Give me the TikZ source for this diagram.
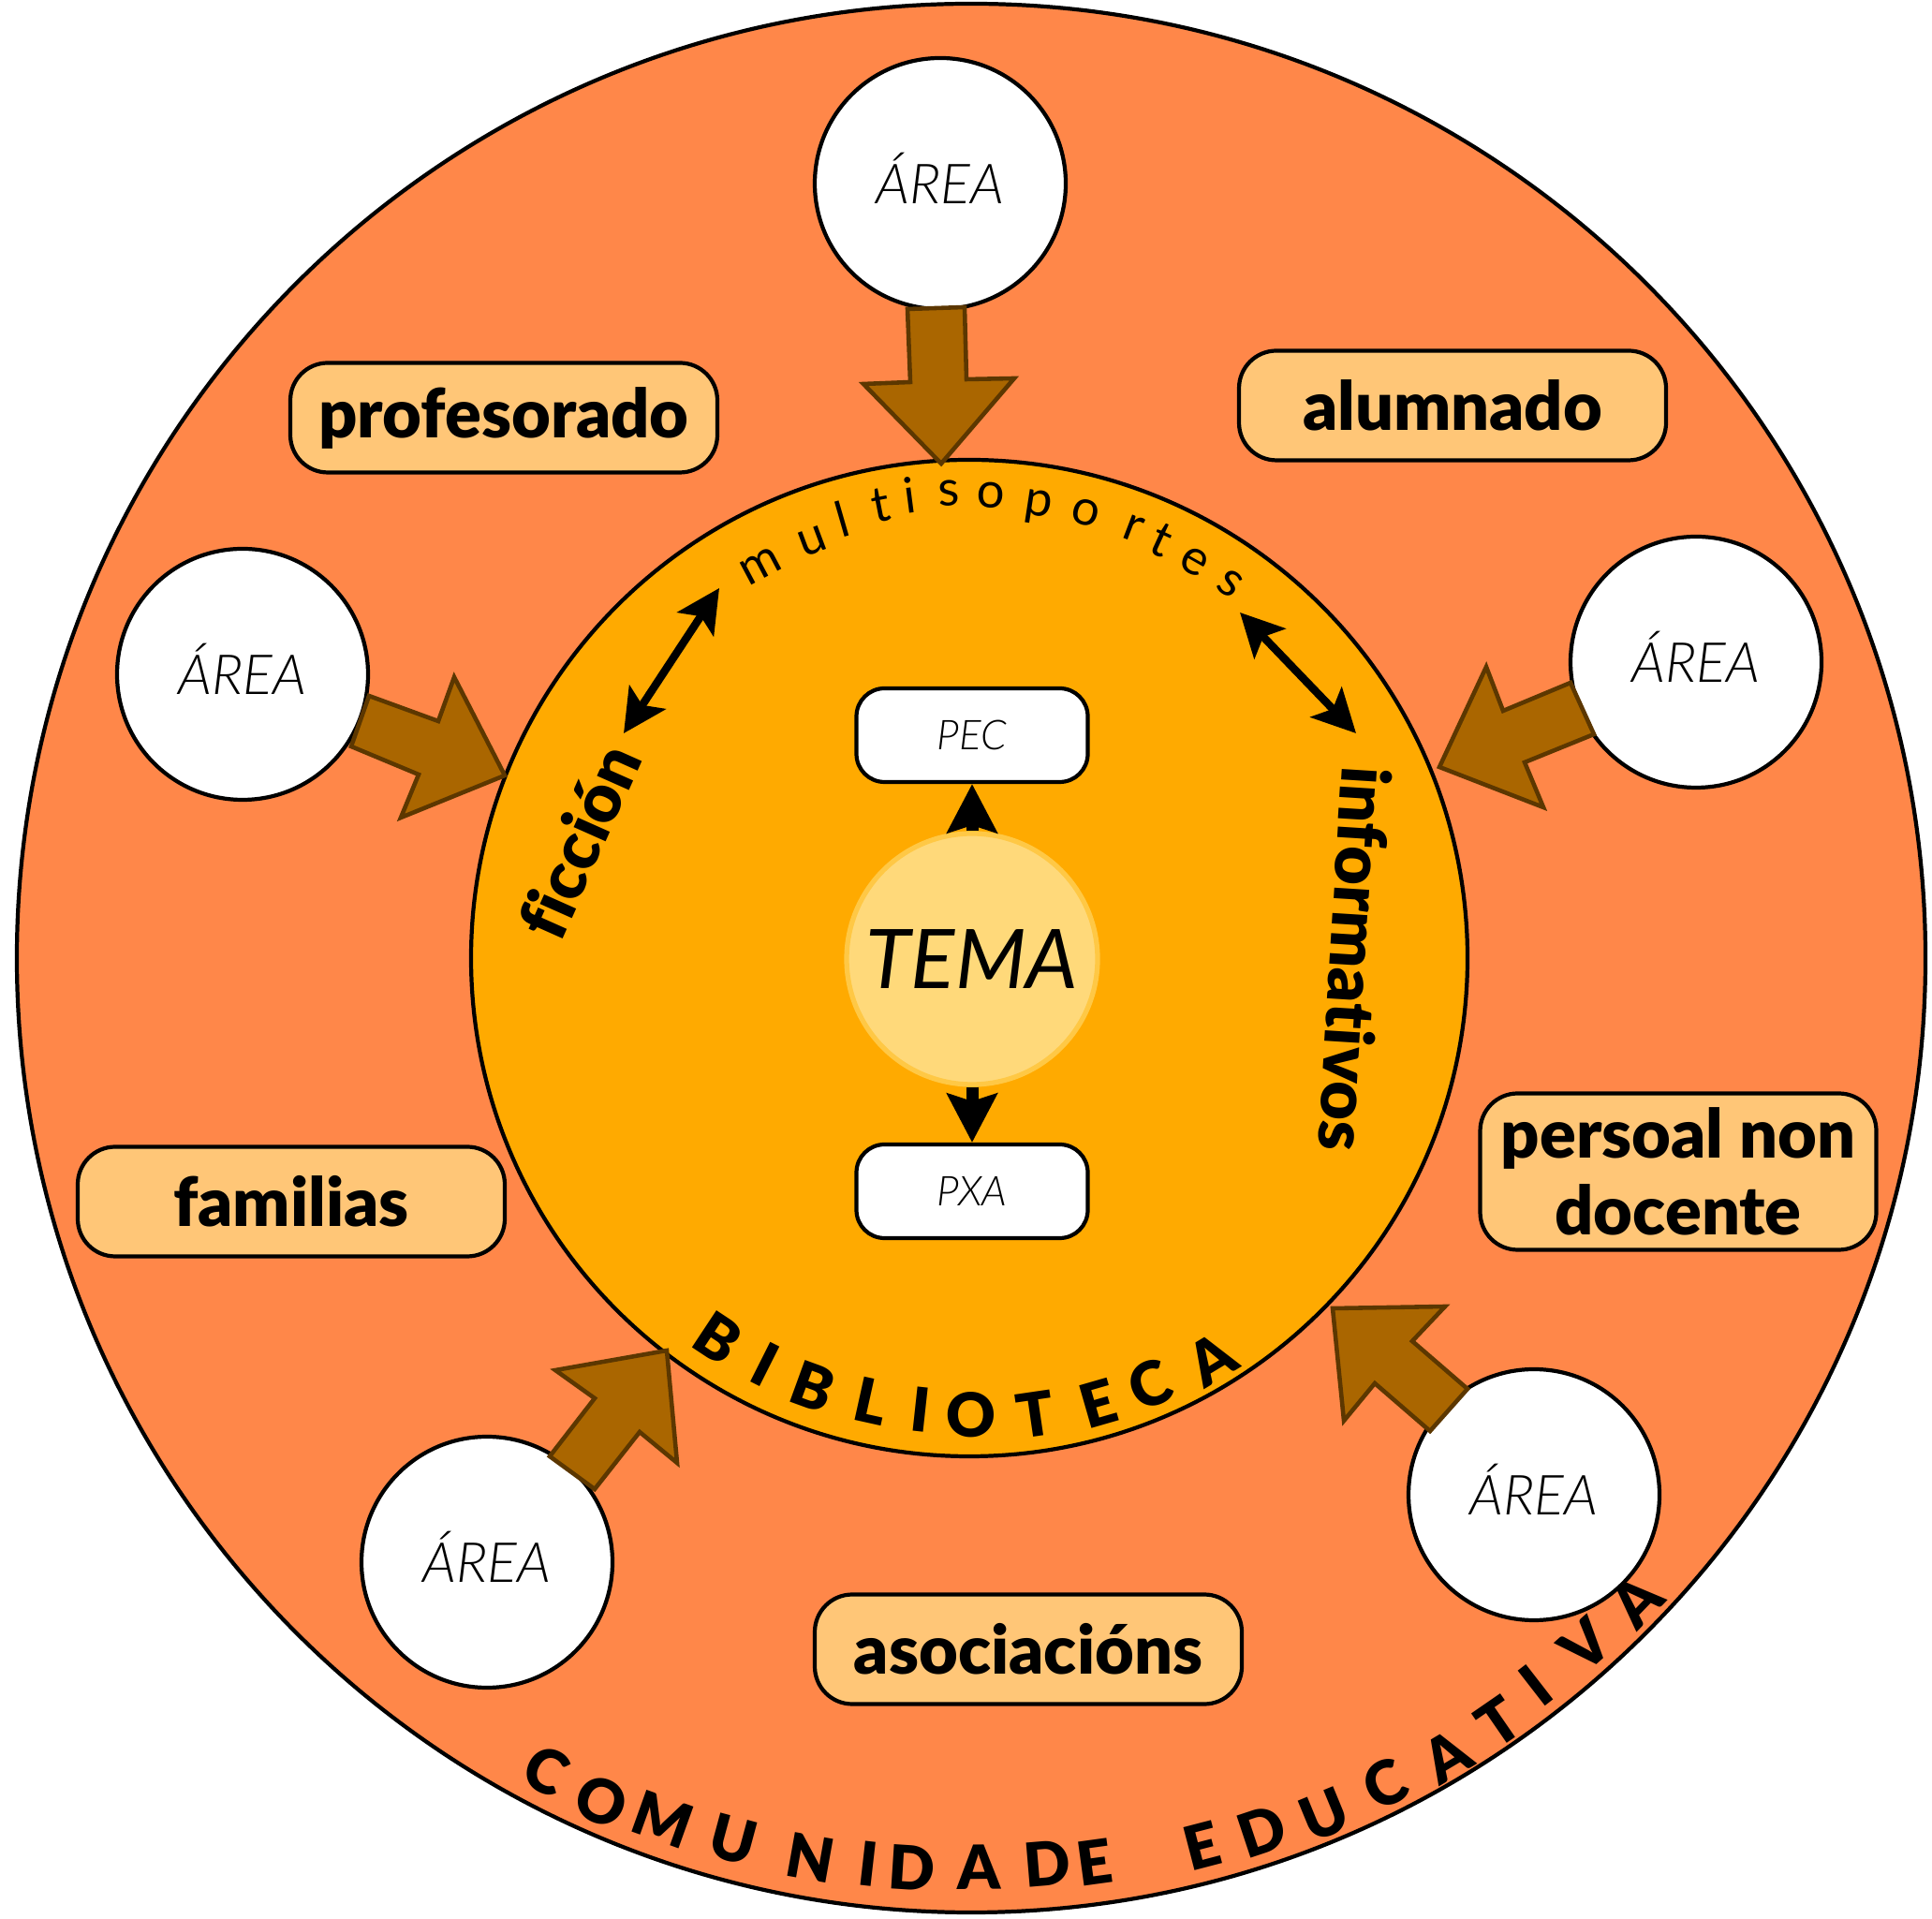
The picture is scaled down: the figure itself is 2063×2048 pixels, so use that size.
\documentclass[tikz,border=0pt]{standalone}
\usepackage{fontspec}
\setmainfont{Lato}
\newfontfamily\blackfont{Lato Black}[Ligatures=CommonOff]
\newfontfamily\lightitfont{Lato Light Italic}
\usetikzlibrary{arrows.meta}

\definecolor{outerfill}{HTML}{FF8749}
\definecolor{innerfill}{HTML}{FFAA00}
\definecolor{boxfill}{HTML}{FFC677}
\definecolor{temafill}{HTML}{FFD97A}
\definecolor{temaline}{HTML}{FFC845}
\definecolor{arrowfill}{HTML}{AA6600}
\definecolor{arrowline}{HTML}{5C3700}

\newcommand{\areafont}{\lightitfont\fontsize{16.8}{18}\selectfont}
\newcommand{\grupofont}{\blackfont\fontsize{20.5}{23.5}\selectfont}
\newcommand{\docfont}{\lightitfont\fontsize{12.5}{14}\selectfont}
\newcommand{\temafont}{\itshape\fontsize{25}{30}\selectfont}
\newcommand{\soportefont}{\fontsize{15}{17}\selectfont}
\newcommand{\bibfont}{\blackfont\fontsize{18.5}{20}\selectfont}

\tikzset{
  area/.style={circle, draw, line width=1.2pt, fill=white, minimum size=26.8mm,
    inner sep=0pt, text height=4.3mm, text depth=0pt, font=\areafont},
  grupo/.style={rectangle, rounded corners=4mm, draw, line width=1.2pt, fill=boxfill,
    minimum width=45.6mm, minimum height=11.7mm, align=center, font=\grupofont},
  doc/.style={rectangle, rounded corners=3mm, draw, line width=1.2pt, fill=white,
    minimum width=24.7mm, minimum height=10mm, font=\docfont},
  tema/.style={circle, draw=temaline, line width=1.5pt, fill=temafill,
    minimum size=26.8mm, inner sep=0pt, font=\temafont},
  blockarrow/.style={fill=arrowfill, draw=arrowline, line width=1.3pt, line join=miter},
  fatarrow/.style={line width=3.7pt, -{Stealth[length=5.2mm, width=5.3mm, inset=0.8mm]}},
  dblarrow/.style={line width=2.4pt,
    {Stealth[length=4.6mm, width=4.6mm, inset=1mm]}-{Stealth[length=4.6mm, width=4.6mm, inset=1mm]}},
  letter/.style={anchor=base, inner sep=0pt},
}

\begin{document}
\begin{tikzpicture}[x=0.1mm, y=0.1mm]
  \useasboundingbox (0,0) rectangle (2063,2048);
  \coordinate (O) at (1037,1025);
  \coordinate (B) at (1035,1025);
  \coordinate (F1) at (666,1265);
  \coordinate (F2) at (768,1420);
  \coordinate (I1) at (1324,1394);
  \coordinate (I2) at (1448,1265);

  \draw[line width=1.2pt, fill=outerfill] (O) circle (1019);
  \draw[line width=1.2pt, fill=innerfill] (B) circle (532);

  %% areas
  \node[area] (A1) at (1004,1852) {ÁREA};
  \node[area] (A2) at (259,1328) {ÁREA};
  \node[area] (A3) at (1811,1341) {ÁREA};
  \node[area] (A4) at (520,380) {ÁREA};
  \node[area] (A5) at (1638,452) {ÁREA};

  \draw[blockarrow] (969,1718) -- (1030,1720) -- (1032,1643) -- (1083,1644) -- (1005,1553)
    -- (922,1638) -- (972,1640) -- cycle;
  \draw[blockarrow] (394,1305) -- (468,1278) -- (485,1325) -- (539,1220) -- (428,1175)
    -- (447,1221) -- (375,1251) -- cycle;
  \draw[blockarrow] (1677,1319) -- (1605,1289) -- (1587,1336) -- (1537,1229) -- (1648,1186)
    -- (1628,1234) -- (1702,1264) -- cycle;
  \draw[blockarrow] (587,493) -- (635,555) -- (593,585) -- (712,606) -- (723,486)
    -- (683,519) -- (635,458) -- cycle;
  \draw[blockarrow] (1567,565) -- (1508,616) -- (1543,653) -- (1423,651) -- (1435,531)
    -- (1468,571) -- (1527,520) -- cycle;

  %% comunidade
  \node[grupo] (prof) at (538,1602) {profesorado};
  \node[grupo] (alum) at (1551,1615) {alumnado};
  \node[grupo] (fam) at (311,765) {familias};
  \node[grupo, minimum width=42.3mm, minimum height=16.7mm] (pers) at (1792,797)
    {persoal non\\docente};
  \node[grupo] (asoc) at (1098,287) {asociacións};

  %% biblioteca
  \node[doc] (pec) at (1038,1263) {PEC};
  \node[doc] (pxa) at (1038,776) {PXA};
  \node[tema] (tem) at (1038,1024) {TEMA};
  \draw[fatarrow] (tem) -- (pec);
  \draw[fatarrow] (tem) -- (pxa);
  \draw[dblarrow] (F1) -- (F2);
  \draw[dblarrow] (I1) -- (I2);
  \node[rotate=66, font=\grupofont] (fic) at (618,1150) {ficción};
  \node[rotate=-93.6, font=\grupofont] (inf) at (1447,1024) {informativos};

  \foreach \ch/\a/\r in {m/118.0/461, u/110.6/462, l/106.1/469, t/101.1/475, i/97.4/479,
      s/92.5/483, o/87.3/481, p/81.3/478, o/75.3/478, r/69.1/477, t/65.3/474, e/60.4/473,
      s/55.2/474}
    \node[letter, font=\soportefont, rotate=\a-90] at ([shift={(\a:\r)}]B) {\ch};
  \foreach \ch/\a/\r in {B/236.5/510, I/243.3/509, B/250.0/511, L/257.5/508, I/263.8/509,
      O/270.2/511, T/278.3/516, E/286.1/519, C/293.0/518, A/301.2/524}
    \node[letter, font=\bibfont, rotate=\a+90] at ([shift={(\a:\r)}]B) {\ch};
  \foreach \ch/\a/\r in {C/242.4/1002, O/246.3/1007, M/250.3/1001, U/254.9/998, N/259.9/999,
      I/263.5/997, D/266.3/997, A/270.5/994, D/274.8/994, E/277.8/998, E/284.6/1003,
      D/288.4/1006, U/292.4/1013, C/296.6/1010, A/300.8/1016, T/304.6/1015, I/307.8/1007,
      V/311.8/1008, A/316.0/1012}
    \node[letter, font=\bibfont, rotate=\a+90] at ([shift={(\a:\r)}]O) {\ch};
\end{tikzpicture}
\end{document}
